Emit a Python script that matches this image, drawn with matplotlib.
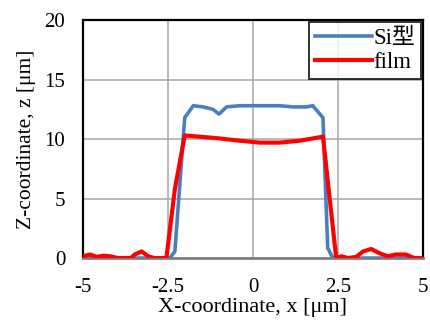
import matplotlib
matplotlib.use("Agg")
import matplotlib.pyplot as plt

plt.rcParams['font.family'] = ['Liberation Serif', 'Noto Sans CJK JP']

# Si mold profile (blue)
si_x = [-5, -4, -3, -2.45, -2.30, -2.01, -1.76, -1.47, -1.18, -1.0, -0.78, -0.39, 0,
        0.39, 0.78, 1.18, 1.57, 1.76, 2.06, 2.2, 2.35, 3, 4, 5]
si_z = [0, 0, 0, 0, 0.56, 11.8, 12.8, 12.7, 12.5, 12.1, 12.7, 12.8, 12.8,
        12.8, 12.8, 12.7, 12.7, 12.8, 11.8, 0.85, 0, 0, 0, 0]

# film profile (red)
film_x = [-5, -4.8, -4.6, -4.4, -4.2, -3.97, -3.6, -3.48, -3.28, -3.09, -2.9, -2.55,
          -2.3, -2.01, -1.57, -0.98, -0.39, 0.2, 0.78, 1.37, 1.76, 2.06, 2.45,
          2.6, 2.8, 3.04, 3.24, 3.48, 3.73, 3.97, 4.2, 4.5, 4.75, 5]
film_z = [0.15, 0.3, 0.1, 0.2, 0.15, 0, 0, 0.3, 0.56, 0.15, 0, 0,
          5.8, 10.3, 10.2, 10.05, 9.86, 9.7, 9.7, 9.86, 10.05, 10.2, 0,
          0.15, 0, 0.1, 0.56, 0.76, 0.4, 0.15, 0.3, 0.3, 0, 0]

fig = plt.figure(figsize=(4.31, 3.23), dpi=100)
ax = fig.add_axes([0.193, 0.201, 0.788, 0.737])

ax.plot(si_x, si_z, color='#4A7EC2', lw=2.6, label='Si型', zorder=3)
ax.plot(film_x, film_z, color='#FF0000', lw=3, label='film', zorder=4)

ax.set_xlim(-5, 5)
ax.set_ylim(0, 20)
ax.set_xticks([-5, -2.5, 0, 2.5, 5])
ax.set_xticklabels(['-5', '-2.5', '0', '2.5', '5'])
ax.set_yticks([0, 5, 10, 15, 20])
ax.grid(True, color='#a6a6a6', lw=1.1)
ax.set_axisbelow(True)
ax.tick_params(length=0, labelsize=15)
ax.tick_params(axis='x', pad=14)
ax.tick_params(axis='y', pad=13)
for s in ['top', 'right', 'left']:
    ax.spines[s].set_color('black')
    ax.spines[s].set_linewidth(1.6)
ax.spines['bottom'].set_color('#808080')
ax.spines['bottom'].set_linewidth(2)

ax.set_xlabel('X-coordinate, x [μm]', fontsize=16, labelpad=1)
ax.set_ylabel('Z-coordinate, z [μm]', fontsize=15.5, labelpad=6)

leg = ax.legend(loc='upper right', fontsize=16.5, frameon=True, fancybox=False,
                borderaxespad=0.1, handlelength=2.5, handletextpad=0.05,
                borderpad=0.25, labelspacing=0.12)
leg.get_frame().set_edgecolor('black')
leg.get_frame().set_linewidth(1.4)

fig.savefig('out.png', dpi=100)
